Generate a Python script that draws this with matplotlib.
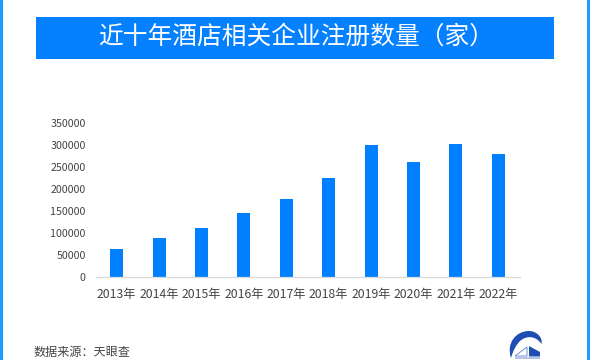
# -*- coding: utf-8 -*-
import matplotlib
matplotlib.use('Agg')
import matplotlib.pyplot as plt
from matplotlib.patches import Rectangle, Polygon, PathPatch
from matplotlib.path import Path

plt.rcParams['font.family'] = ['Noto Sans CJK SC', 'DejaVu Sans']

years = ['2013年', '2014年', '2015年', '2016年', '2017年',
         '2018年', '2019年', '2020年', '2021年', '2022年']
counts = [62700, 88600, 111000, 144500, 178000,
          225000, 301000, 262000, 303000, 280000]
y_ticks = [0, 50000, 100000, 150000, 200000, 250000, 300000, 350000]
title_text = '近十年酒店相关企业注册数量（家）'
source_text = '数据来源：天眼查'

W, H = 590, 360
fig = plt.figure(figsize=(W / 100, H / 100), dpi=100, facecolor='white')

# background layer in pixel coordinates (title bar, side strips, logo)
bg = fig.add_axes([0, 0, 1, 1])
bg.set_xlim(0, W)
bg.set_ylim(H, 0)
bg.axis('off')

bg.add_patch(Rectangle((0, 0), 2.5, H, color='#1a9fff', lw=0))
bg.add_patch(Rectangle((587, 0), 3, H, color='#1a9fff', lw=0))
bg.add_patch(Rectangle((36, 17), 518, 41.5, color='#0580ff', lw=0))
bg.text(296, 37, title_text, color='white', fontsize=17.8, ha='center', va='center')
bg.text(34, 352, source_text, color='#444444', fontsize=8.7, ha='left', va='center')

# logo
swoosh = Path([(511, 358), (506, 343), (516, 331), (529, 331), (537, 331),
               (543, 338), (541.5, 344), (536, 336), (527, 335), (520, 341),
               (516, 345), (513, 351), (511, 358)],
              [Path.MOVETO, Path.CURVE4, Path.CURVE4, Path.CURVE4, Path.CURVE4,
               Path.CURVE4, Path.CURVE4, Path.CURVE4, Path.CURVE4, Path.CURVE4,
               Path.CURVE4, Path.CURVE4, Path.CLOSEPOLY])
bg.add_patch(PathPatch(swoosh, facecolor='#1f4fb0', edgecolor='none'))
bg.add_patch(Polygon([(529, 346), (540, 352), (540, 356.5), (529, 356.5)],
                     facecolor='#1f4fb0', edgecolor='none'))
bg.add_patch(Polygon([(515, 356), (527, 347), (527, 356)],
                     facecolor='#ffffff', edgecolor='#5f80cc', lw=0.6))
bg.add_patch(Rectangle((515, 356.5), 25, 2, color='#b5c4e6', lw=0))

# chart: x 95.5-519.5, y 123-277 px
ax = fig.add_axes([95.5 / W, 1 - 277 / H, 424 / W, 154 / H])
ax.patch.set_alpha(0)
ax.bar(range(len(years)), counts, width=0.307, color='#0080ff')
ax.set_xlim(-0.5, len(years) - 0.5)
ax.set_ylim(0, 350000)
ax.set_xticks(range(len(years)))
ax.set_xticklabels(years)
ax.set_yticks(y_ticks)
ax.set_yticklabels([str(v) for v in y_ticks])
ax.tick_params(axis='both', length=0, labelcolor='#444444')
ax.tick_params(axis='x', pad=8, labelsize=8.8)
ax.tick_params(axis='y', pad=7, labelsize=7.7)
for side in ['top', 'left', 'right']:
    ax.spines[side].set_visible(False)
ax.spines['bottom'].set_color('#d9d9d9')
ax.spines['bottom'].set_linewidth(0.9)

fig.savefig('out.png', dpi=100)
